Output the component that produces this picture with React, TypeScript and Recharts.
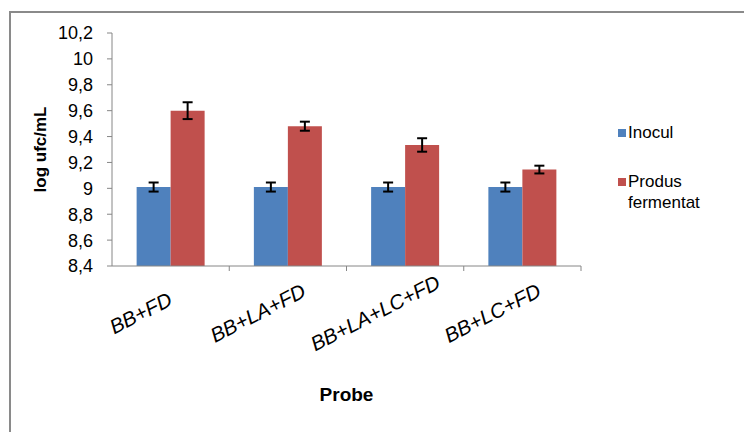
import React from 'react'
import { BarChart, Bar, XAxis, YAxis, ErrorBar, Label } from 'recharts'

const categories = ['BB+FD', 'BB+LA+FD', 'BB+LA+LC+FD', 'BB+LC+FD']
const inocul = [9.01, 9.01, 9.01, 9.01]
const inoculErr = [0.035, 0.035, 0.035, 0.035]
const produs = [9.6, 9.48, 9.335, 9.145]
const produsErr = [0.065, 0.035, 0.052, 0.03]
const yTicks = [8.4, 8.6, 8.8, 9, 9.2, 9.4, 9.6, 9.8, 10, 10.2]

const data = categories.map((name, i) => ({
  name,
  inocul: inocul[i],
  inoculErr: inoculErr[i],
  produs: produs[i],
  produsErr: produsErr[i],
}))

const W = 744
const H = 432
const margin = { top: 33, right: 163, left: 52, bottom: 26 }
const Y_AXIS_W = 60
const FONT = '"Liberation Sans", Arial, sans-serif'
const GRID = '#868686'

const plotW = W - margin.left - Y_AXIS_W - margin.right
const step = plotW / categories.length

// Excel-style: tick marks on category boundaries, slanted italic labels
const XTick = (props: any) => {
  const { x, y, payload } = props
  const bx = x + step / 2
  const tx = x - 30
  const ty = y + 47
  return (
    <g>
      <line x1={bx} y1={y} x2={bx} y2={y + 5} stroke={GRID} />
      <text
        x={tx}
        y={ty}
        textAnchor="middle"
        dy="0.35em"
        transform={`rotate(-27, ${tx}, ${ty})`}
        fontFamily={FONT}
        fontSize={20.5}
        fontStyle="italic"
        fill="#000"
      >
        {payload.value}
      </text>
    </g>
  )
}

const legendItems = [
  { label: 'Inocul', color: '#4F81BD' },
  { label: 'Produs fermentat', color: '#C0504D' },
]

const ChartLegend = () => (
  <div
    style={{
      position: 'absolute',
      left: 618,
      top: 122,
      width: 126,
      fontFamily: FONT,
      fontSize: 17,
      lineHeight: '21px',
      color: '#000',
    }}
  >
    {legendItems.map((it, i) => (
      <div key={it.label} style={{ display: 'flex', alignItems: 'flex-start', marginBottom: i === 0 ? 28 : 0 }}>
        <div style={{ width: 8, height: 8, background: it.color, marginTop: 7, marginRight: 2, flexShrink: 0 }} />
        <div style={{ width: 100 }}>{it.label}</div>
      </div>
    ))}
  </div>
)

export default function App() {
  return (
    <div style={{ position: 'absolute', left: 0, top: 0, width: W, height: H, overflow: 'hidden', background: '#fff' }}>
      <div
        style={{
          position: 'absolute',
          left: 9,
          top: 11,
          width: 800,
          height: 500,
          border: '2px solid #8a8a8a',
        }}
      />
      <div style={{ position: 'absolute', left: 0, top: 0 }}>
        <BarChart
          width={W}
          height={H}
          data={data}
          margin={margin}
          barGap={0}
          barCategoryGap="21%"
        >
          <XAxis
            dataKey="name"
            height={140}
            axisLine={{ stroke: GRID }}
            tickLine={false}
            tickSize={0}
            tickMargin={0}
            interval={0}
            tick={<XTick />}
          >
            <Label
              value="Probe"
              position="insideBottom"
              offset={5}
              style={{ fontFamily: FONT, fontSize: 19, fontWeight: 'bold', fill: '#000' }}
            />
          </XAxis>
          <YAxis
            width={Y_AXIS_W}
            domain={[8.4, 10.2]}
            ticks={yTicks}
            interval={0}
            axisLine={{ stroke: GRID }}
            tickLine={{ stroke: GRID }}
            tickSize={5}
            tickMargin={14}
            tickFormatter={(v: number) => String(v).replace('.', ',')}
            tick={{ fontFamily: FONT, fontSize: 18, fill: '#000' }}
          >
            <Label
              value="log ufc/mL"
              angle={-90}
              position="left"
              offset={12}
              style={{ fontFamily: FONT, fontSize: 17, fontWeight: 'bold', fill: '#000', textAnchor: 'middle' }}
            />
          </YAxis>
          <Bar dataKey="inocul" name="Inocul" fill="#4F81BD" isAnimationActive={false}>
            <ErrorBar dataKey="inoculErr" width={5} strokeWidth={2} stroke="#000" direction="y" isAnimationActive={false} />
          </Bar>
          <Bar dataKey="produs" name="Produs fermentat" fill="#C0504D" isAnimationActive={false}>
            <ErrorBar dataKey="produsErr" width={5} strokeWidth={2} stroke="#000" direction="y" isAnimationActive={false} />
          </Bar>
        </BarChart>
      </div>
      <ChartLegend />
    </div>
  )
}
